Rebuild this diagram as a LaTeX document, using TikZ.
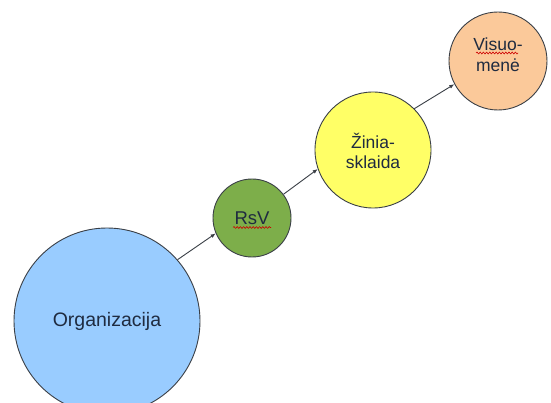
\documentclass[tikz,border=0pt]{standalone}
\usepackage{fontspec}
\setmainfont{Liberation Sans}
\usetikzlibrary{arrows.meta,decorations.pathmorphing}
\definecolor{orgblue}{HTML}{99CCFF}
\definecolor{rsvgreen}{HTML}{7DAE4A}
\definecolor{mediayellow}{HTML}{FFFF66}
\definecolor{publicpeach}{HTML}{FBC99A}
\definecolor{labelink}{HTML}{1F2B40}
\definecolor{edgegray}{HTML}{3A3F46}
\begin{document}
\begin{tikzpicture}[x=1pt,y=-1pt,
  bubble/.style={circle,draw=edgegray,line width=0.9pt,inner sep=0pt},
  caption/.style={inner sep=0pt,align=center,text=labelink,
    font=\fontsize{17.5}{20.5}\selectfont},
  link/.style={draw=edgegray,line width=0.9pt,-{Latex[length=5pt,width=4pt]}},
  spellmark/.style={draw=red!80!black,line width=0.6pt,
    decorate,decoration={snake,amplitude=0.9pt,segment length=3.2pt}}]
  \useasboundingbox (0,0) rectangle (551,403);
  \fill[white] (0,0) rectangle (551,403);
  \clip (0,0) rectangle (551,403);

  % circles
  \node[bubble,fill=orgblue,minimum size=186pt] (org) at (107,321) {};
  \node[bubble,fill=rsvgreen,minimum size=78pt] (rsv) at (252,218) {};
  \node[bubble,fill=mediayellow,minimum size=116pt] (media) at (373,150) {};
  \node[bubble,fill=publicpeach,minimum size=98pt] (public) at (498,61) {};

  % captions
  \node[caption,font=\fontsize{19.5}{21}\selectfont] (orgtext) at (org.center) {Organizacija};
  \node[caption,font=\fontsize{18.5}{21}\selectfont] (rsvtext) at (rsv.center) {RsV};
  \node[caption] (mediatext) at ([yshift=-1pt]media.center) {Žinia-\\sklaida};
  \node[caption] (publictext) at ([yshift=6.5pt]public.center) {Visuo-\\menė};

  % connectors
  \draw[link] (org.41) -- (rsv.203);
  \draw[link] (rsv.37) -- (media.199);
  \draw[link] (media.45) -- (public.208);

  % spell-check squiggles
  \draw[spellmark] ([shift={(-19,9.5)}]rsvtext.center) -- ([shift={(19,9.5)}]rsvtext.center);
  \draw[spellmark] ([shift={(-22,-1.5)}]publictext.center) -- ([shift={(20,-1.5)}]publictext.center);
\end{tikzpicture}
\end{document}
